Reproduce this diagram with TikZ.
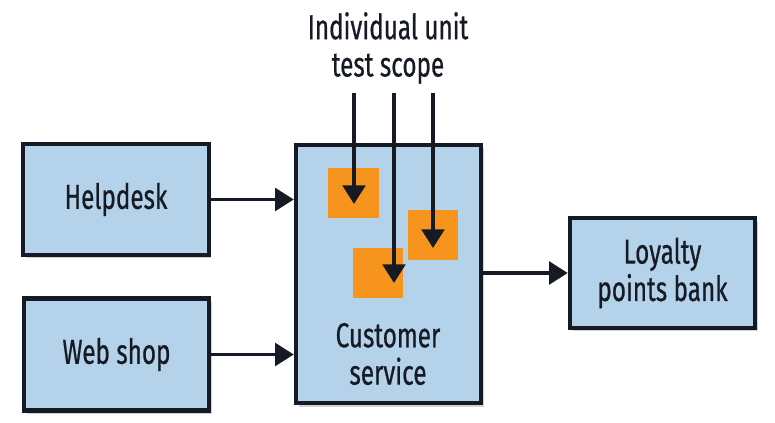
\documentclass[tikz,border=0pt]{standalone}
\usepackage{fontspec}
\setmainfont[FakeStretch=0.7, FakeBold=0.6]{Fira Sans}
\usepackage{tikz}
\usetikzlibrary{arrows.meta,shadows}

\definecolor{boxblue}{RGB}{180,211,235}
\definecolor{unitorange}{RGB}{247,148,30}
\definecolor{inkdark}{RGB}{22,26,36}

\begin{document}
\begin{tikzpicture}[x=0.75pt, y=-0.75pt,
	>={Triangle[length=14pt, width=17pt]},
	service/.style={draw=inkdark, line width=3.1pt, fill=boxblue, minimum width=139pt,
		drop shadow={opacity=0.35, shadow xshift=2pt, shadow yshift=-2.5pt},
		text=inkdark, align=center, font=\fontsize{26}{28}\selectfont},
	unit/.style={fill=unitorange, minimum width=38pt, minimum height=37.5pt, inner sep=0pt},
	link/.style={->, line width=2.6pt, draw=inkdark}]
\useasboundingbox (0,0) rectangle (775,423);
\node[service, minimum height=83pt]		(help)	at (116,199.5)		{Helpdesk};
\node[service, minimum height=84pt]		(web)	at (116.5,354.5)	{Web shop};
\node[service, minimum height=194pt]	(cust)	at (388.5,274)		{};
\node[service, minimum height=82pt]		(bank)	at (662.5,273)		{Loyalty\\points bank};
\node[text=inkdark, align=center, font=\fontsize{26}{28}\selectfont]
										(cust_txt) at (388,354)		{Customer\\service};
\node[unit]		(unit_1)	at (353.5,193)		{};
\node[unit]		(unit_2)	at (378,273.5)		{};
\node[unit]		(unit_3)	at (433,235)		{};
\node[text=inkdark, align=center, font=\fontsize{26}{28}\selectfont]
										(scope)	at (388,48)		{Individual unit\\test scope};
% entry points of the scope arrows
\coordinate (in_1) at (354,93);
\coordinate (in_2) at (394,93);
\coordinate (in_3) at (433,93);
\coordinate (tip_1) at (354,204);
\coordinate (tip_2) at (394,283);
\coordinate (tip_3) at (433,248);
\path	(help)		edge[link]		(help -| cust.west)
		(web)		edge[link]		(web -| cust.west)
		(cust.east |- bank)	edge[link]	(bank)
		(in_1)		edge[link]		(tip_1)
		(in_2)		edge[link]		(tip_2)
		(in_3)		edge[link]		(tip_3);
\end{tikzpicture}
\end{document}
